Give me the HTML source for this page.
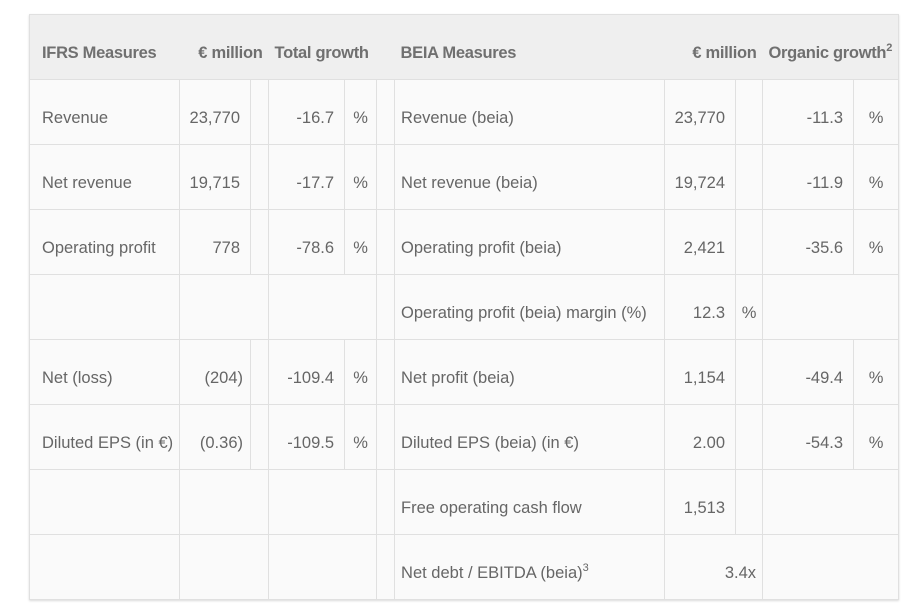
<!DOCTYPE html>
<html><head><meta charset="utf-8"><style>
body{margin:0;background:#fff;width:924px;height:612px;overflow:hidden;font-family:"Liberation Sans",sans-serif;}
table{position:absolute;left:29px;top:14px;border-collapse:collapse;table-layout:fixed;width:869px;color:#666;font-size:16.5px;box-shadow:0 1px 2px rgba(0,0,0,0.15);}
td{border:1px solid #e0e0e0;height:65px;padding:13px 0 0 0;box-sizing:border-box;background:#fafafa;white-space:nowrap;overflow:visible}
tr.h td{background:#efefef;border-left:none;border-right:none;color:#707070;font-weight:bold;letter-spacing:-0.3px}
tr.h td:first-child{border-left:1px solid #e0e0e0}
tr.h td:last-child{border-right:1px solid #e0e0e0}
.l{padding-left:12px;text-align:left}
.r{text-align:right;padding-right:10px}
.c{text-align:center}
sup{font-size:11px;vertical-align:7px;line-height:0}
</style></head><body>
<table>
<colgroup><col style="width:150px"><col style="width:71px"><col style="width:18px"><col style="width:76px"><col style="width:32px"><col style="width:18px"><col style="width:270px"><col style="width:71px"><col style="width:27px"><col style="width:91px"><col style="width:45px"></colgroup>
<tr class="h"><td class="l">IFRS Measures</td><td colspan="2" class="r" style="padding-right:6px">€ million</td><td colspan="2" class="l" style="padding-left:6px">Total growth</td><td></td><td class="l" style="padding-left:6px">BEIA Measures</td><td colspan="2" class="r" style="padding-right:6px">€ million</td><td colspan="2" class="r" style="padding-right:6px">Organic growth<sup>2</sup></td></tr>
<tr><td class="l">Revenue</td><td class="r">23,770</td><td></td><td class="r">-16.7</td><td class="c">%</td><td></td><td class="l" style="padding-left:6px">Revenue (beia)</td><td class="r">23,770</td><td></td><td class="r">-11.3</td><td class="c">%</td></tr>
<tr><td class="l">Net revenue</td><td class="r">19,715</td><td></td><td class="r">-17.7</td><td class="c">%</td><td></td><td class="l" style="padding-left:6px">Net revenue (beia)</td><td class="r">19,724</td><td></td><td class="r">-11.9</td><td class="c">%</td></tr>
<tr><td class="l">Operating profit</td><td class="r">778</td><td></td><td class="r">-78.6</td><td class="c">%</td><td></td><td class="l" style="padding-left:6px">Operating profit (beia)</td><td class="r">2,421</td><td></td><td class="r">-35.6</td><td class="c">%</td></tr>
<tr><td></td><td colspan="2"></td><td colspan="2"></td><td></td><td class="l" style="padding-left:6px">Operating profit (beia) margin (%)</td><td class="r">12.3</td><td class="c">%</td><td colspan="2"></td></tr>
<tr><td class="l">Net (loss)</td><td class="r" style="padding-right:7px">(204)</td><td></td><td class="r">-109.4</td><td class="c">%</td><td></td><td class="l" style="padding-left:6px">Net profit (beia)</td><td class="r">1,154</td><td></td><td class="r">-49.4</td><td class="c">%</td></tr>
<tr><td class="l">Diluted EPS (in €)</td><td class="r" style="padding-right:7px">(0.36)</td><td></td><td class="r">-109.5</td><td class="c">%</td><td></td><td class="l" style="padding-left:6px">Diluted EPS (beia) (in €)</td><td class="r">2.00</td><td></td><td class="r">-54.3</td><td class="c">%</td></tr>
<tr><td></td><td colspan="2"></td><td colspan="2"></td><td></td><td class="l" style="padding-left:6px">Free operating cash flow</td><td class="r">1,513</td><td></td><td colspan="2"></td></tr>
<tr><td></td><td colspan="2"></td><td colspan="2"></td><td></td><td class="l" style="padding-left:6px">Net debt / EBITDA (beia)<sup>3</sup></td><td colspan="2" class="r" style="padding-right:6px">3.4x</td><td colspan="2"></td></tr>
</table>
</body></html>
